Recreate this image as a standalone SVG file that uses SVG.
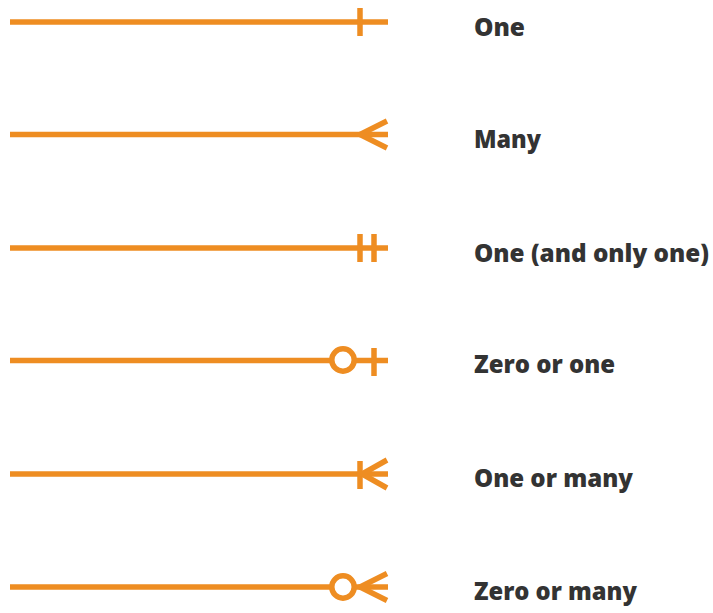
<svg xmlns="http://www.w3.org/2000/svg" width="713" height="613" viewBox="0 0 713 613">
<style>
.l{stroke:#EE8D22;stroke-width:5.5;fill:none}
.t{font-family:"Open Sans",Lato,sans-serif;font-weight:800;font-size:24px;fill:#333333}
</style>
<rect width="713" height="613" fill="#fff"/>
<g id="connectors">
<g id="one"><line class="l" x1="10" y1="22" x2="388" y2="22"/><line class="l" x1="360" y1="8" x2="360" y2="36"/></g>
<g id="many"><line class="l" x1="10" y1="134.5" x2="388" y2="134.5"/><polyline class="l" points="387,121 360,134.5 387,148"/></g>
<g id="only-one"><line class="l" x1="10" y1="248" x2="388" y2="248"/><line class="l" x1="360" y1="234" x2="360" y2="262"/><line class="l" x1="374" y1="234" x2="374" y2="262"/></g>
<g id="zero-one"><line class="l" x1="10" y1="360.5" x2="332" y2="360.5"/><line class="l" x1="354" y1="360.5" x2="388" y2="360.5"/><circle class="l" cx="343" cy="360" r="11.2"/><line class="l" x1="374" y1="348" x2="374" y2="376"/></g>
<g id="one-many"><line class="l" x1="10" y1="474" x2="388" y2="474"/><line class="l" x1="360" y1="461" x2="360" y2="489"/><polyline class="l" points="387,460 362,474 387,488"/></g>
<g id="zero-many"><line class="l" x1="10" y1="587" x2="332" y2="587"/><line class="l" x1="354" y1="587" x2="388" y2="587"/><circle class="l" cx="343" cy="587" r="11.2"/><polyline class="l" points="387,573.5 360,587 387,600.5"/></g>
</g>
<g id="labels">
<text class="t" x="474" y="35.5" textLength="51" lengthAdjust="spacingAndGlyphs">One</text>
<text class="t" x="474" y="147.5" textLength="67" lengthAdjust="spacingAndGlyphs">Many</text>
<text class="t" x="474" y="261.5" textLength="235" lengthAdjust="spacingAndGlyphs">One (and only one)</text>
<text class="t" x="474" y="372.5" textLength="141" lengthAdjust="spacingAndGlyphs">Zero or one</text>
<text class="t" x="474" y="487" textLength="159" lengthAdjust="spacingAndGlyphs">One or many</text>
<text class="t" x="474" y="599.5" textLength="163" lengthAdjust="spacingAndGlyphs">Zero or many</text>
</g>
</svg>
